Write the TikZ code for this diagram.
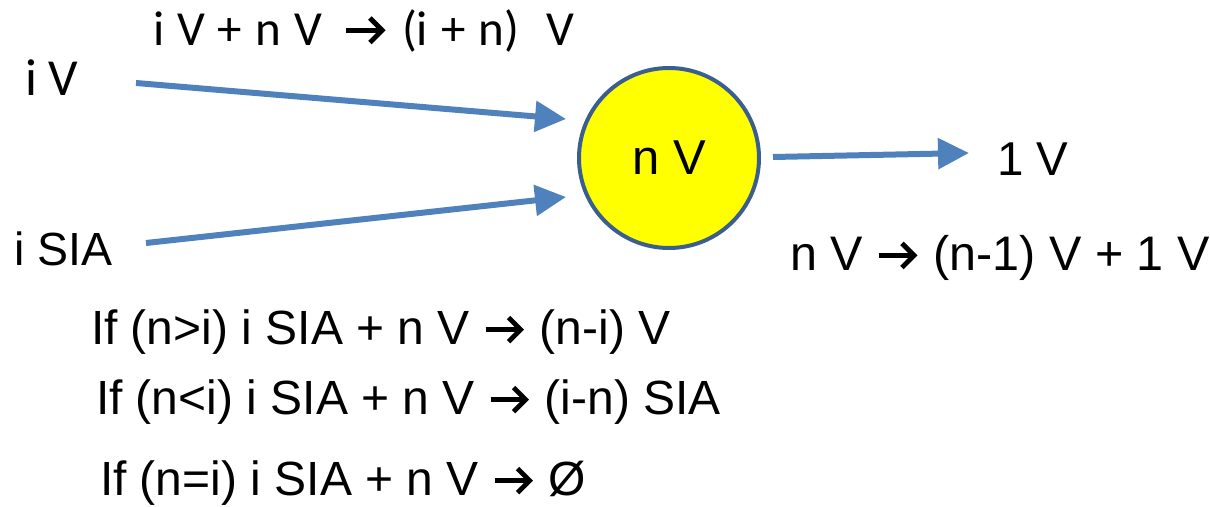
\documentclass[tikz,border=0pt]{standalone}
\usepackage{fontspec}
\setmainfont{Liberation Sans}
\newfontfamily\califont{Carlito}
\usetikzlibrary{arrows.meta}
\definecolor{arrowblue}{HTML}{4F81BD}
\definecolor{rimblue}{HTML}{3A5F8F}
\definecolor{sunyellow}{HTML}{FFFF00}
\newcommand\rarr{\tikz[baseline=0pt,x=1em,y=1em]\draw[line width=0.1em,line cap=butt,-{Straight Barb[length=0.25em,width=0.5em,line width=0.1em]}] (0,0.3) -- (0.8,0.3);}
\tikzset{
  lbl/.style={anchor=base west,inner sep=0pt,outer sep=0pt},
  flow/.style={draw=arrowblue,line width=6pt,-{Triangle[length=31pt,width=30pt]}},
  pool/.style={circle,draw=rimblue,line width=4pt,fill=sunyellow,minimum size=180pt,inner sep=0pt}
}
\begin{document}
\begin{tikzpicture}[x=1pt,y=-1pt]
\useasboundingbox (0,0) rectangle (1210,506);
\node[lbl,font=\califont\fontsize{52}{60}\selectfont] (iv) at (25,95) {i V};
\node[lbl,font=\califont\fontsize{49}{56}\selectfont] (top) at (153,45) {\spaceskip=13pt\relax i V + n V\hspace{22pt}\rarr\hspace{14pt}(i + n)\hspace{27pt}V};
\node[lbl,font=\fontsize{46.5}{54}\selectfont] (isia) at (14,265) {i SIA};
\node[pool,font=\fontsize{49}{58}\selectfont] (nv) at (669,158) {n V\hspace{14pt}};
\node[lbl,font=\fontsize{47.5}{56}\selectfont] (onev) at (997,175) {1 V};
\node[lbl,font=\fontsize{48.5}{56}\selectfont] (emit) at (790,270) {n V \rarr\ (n-1) V + 1 V};
\node[lbl,font=\fontsize{48}{56}\selectfont] (c1) at (91,344) {If (n>i) i SIA + n V \rarr\ (n-i) V};
\node[lbl,font=\fontsize{48}{56}\selectfont] (c2) at (96,414) {If (n<i) i SIA + n V \rarr\ (i-n) SIA};
\node[lbl,font=\fontsize{48}{56}\selectfont] (c3) at (100,495) {If (n=i) i SIA + n V \rarr\ Ø};
\coordinate (a1s) at (136,83);
\coordinate (a1e) at (566,119);
\coordinate (a2s) at (146,243);
\coordinate (a2e) at (566,197);
\coordinate (a3s) at (773,157);
\coordinate (a3e) at (969,153);
\draw[flow] (a1s) -- (a1e);
\draw[flow] (a2s) -- (a2e);
\draw[flow] (a3s) -- (a3e);
\end{tikzpicture}
\end{document}
